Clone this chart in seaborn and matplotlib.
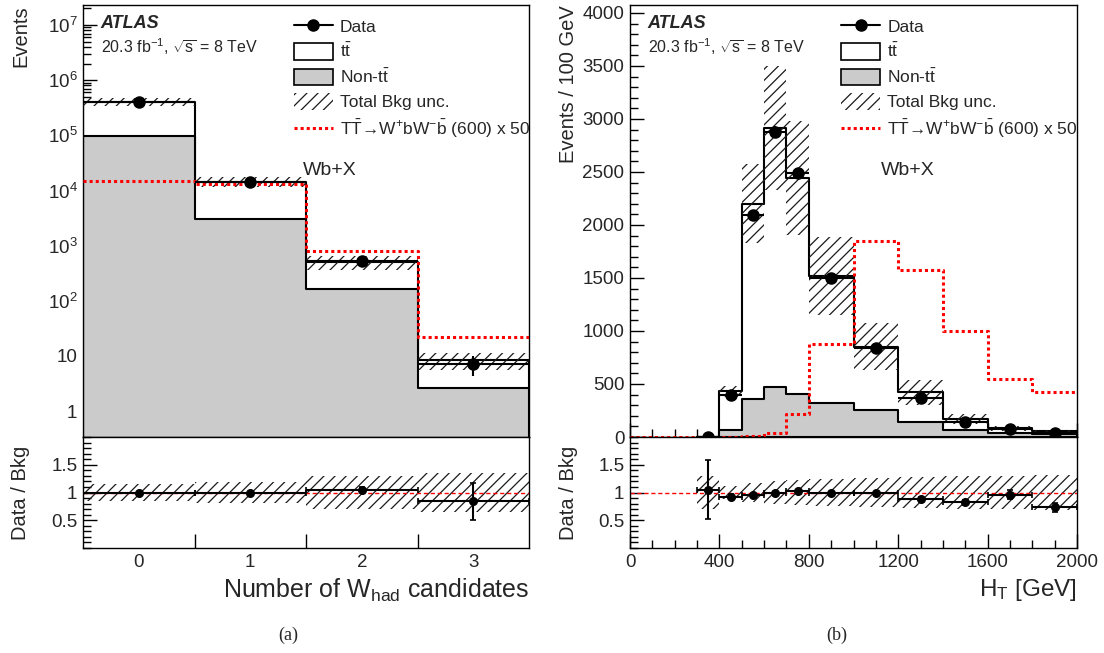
import numpy as np
import pandas as pd
import seaborn as sns
import matplotlib.pyplot as plt
from matplotlib.patches import Patch
from matplotlib.lines import Line2D
from matplotlib.ticker import MultipleLocator, LogLocator, NullFormatter, FixedLocator

sns.set_style('ticks')
plt.rcParams['font.family'] = ['Liberation Sans', 'DejaVu Sans']
plt.rcParams['mathtext.fontset'] = 'custom'
plt.rcParams['mathtext.rm'] = 'Liberation Sans'
plt.rcParams['mathtext.it'] = 'Liberation Sans:italic'
plt.rcParams['mathtext.bf'] = 'Liberation Sans:bold'
plt.rcParams['hatch.linewidth'] = 0.9

GREY = '#cbcbcb'
HATCH_COL = '#1a1a1a'

# (a) number of W_had candidates
nw_labels = ['0', '1', '2', '3']
nw_edges = [-0.5, 0.5, 1.5, 2.5, 3.5]
nw_data = [4.0e5, 1.43e4, 527, 7.1]
nw_data_err = [630, 120, 23, 2.8]
nw_total = [4.05e5, 1.45e4, 500, 8.4]
nw_nontt = [9.7e4, 3.1e3, 163, 2.65]
nw_unc = [0.15, 0.19, 0.29, 0.35]
nw_signal = [1.48e4, 1.33e4, 800, 21.7]

# (b) HT, events / 100 GeV
ht_edges = [300, 400, 500, 600, 700, 800, 1000, 1200, 1400, 1600, 1800, 2000]
ht_data = [4, 399, 2095, 2881, 2492, 1496, 840, 372, 140, 80, 38]
ht_data_err = [2, 20, 46, 54, 50, 27, 20, 14, 8, 6, 4]
ht_total = [3.8, 430, 2200, 2915, 2445, 1520, 850, 420, 170, 83, 52]
ht_nontt = [0.5, 70, 355, 470, 405, 320, 255, 145, 70, 42, 30]
ht_unc = [0.30, 0.12, 0.17, 0.20, 0.22, 0.24, 0.26, 0.28, 0.29, 0.30, 0.32]
ht_sig_edges = [0, 300, 400, 500, 600, 700, 800, 1000, 1200, 1400, 1600, 1800, 2000]
ht_signal = [3, 3, 4, 6, 40, 220, 880, 1845, 1580, 1000, 550, 420]


def step_hist(ax, edges, values, **kws):
    edges = [float(e) for e in edges]
    centers = [0.5 * (a + b) for a, b in zip(edges[:-1], edges[1:])]
    df = pd.DataFrame({'x': centers, 'w': [float(v) for v in values]})
    sns.histplot(data=df, x='x', weights='w', bins=edges, element='step', ax=ax, **kws)


def draw_stack(ax, edges, total, nontt, unc, data, data_err, sig_edges, sig):
    edges = np.asarray(edges, float)
    centers = 0.5 * (edges[1:] + edges[:-1])
    widths = np.diff(edges)
    total = np.asarray(total, float)
    unc = np.asarray(unc, float)
    step_hist(ax, edges, total, fill=True, color='white', edgecolor='black',
              linewidth=1.5, alpha=1, zorder=1)
    step_hist(ax, edges, nontt, fill=True, color=GREY, edgecolor='black',
              linewidth=1.5, alpha=1, zorder=2)
    ax.bar(edges[:-1], 2 * unc * total, width=widths, bottom=total * (1 - unc), align='edge',
           fill=False, hatch='///', edgecolor=HATCH_COL, linewidth=0, zorder=3)
    step_hist(ax, sig_edges, sig, fill=False, color='red', linestyle=(0, (1, 1)),
              linewidth=2.2, zorder=4)
    ax.errorbar(centers, data, yerr=data_err, xerr=widths / 2, fmt='o', color='black',
                ms=8, elinewidth=1.5, capsize=0, zorder=5)


def draw_ratio(ax, edges, total, unc, data, data_err):
    edges = np.asarray(edges, float)
    centers = 0.5 * (edges[1:] + edges[:-1])
    widths = np.diff(edges)
    total = np.asarray(total, float)
    unc = np.asarray(unc, float)
    ax.bar(edges[:-1], 2 * unc, width=widths, bottom=1 - unc, align='edge',
           fill=False, hatch='///', edgecolor=HATCH_COL, linewidth=0, zorder=1)
    ax.axhline(1, color='red', ls=(0, (3, 2)), lw=1, zorder=2)
    ax.errorbar(centers, np.asarray(data) / total, yerr=np.asarray(data_err) / total,
                xerr=widths / 2, fmt='o', color='black', ms=5.5, elinewidth=1.5,
                capsize=2.5, capthick=1.2, zorder=3)
    ax.set_ylim(0, 2)
    ax.yaxis.set_major_locator(FixedLocator([0.5, 1, 1.5]))
    ax.set_yticklabels(['0.5', '1', '1.5'])
    ax.yaxis.set_minor_locator(MultipleLocator(0.1))
    ax.set_ylabel('Data / Bkg', fontsize=14.5)
    ax.yaxis.set_label_coords(-0.119, 0.5)


def decorate(ax):
    ax.tick_params(which='both', direction='in', top=False, right=False,
                   labelsize=13.5, width=1, color='black', pad=4)
    ax.tick_params(which='major', length=10)
    ax.tick_params(which='minor', length=5.5)
    for s in ax.spines.values():
        s.set_linewidth(1)
        s.set_color('black')


def add_text(ax):
    ax.text(0.038, 0.958, 'ATLAS', transform=ax.transAxes, fontsize=13,
            fontweight='bold', fontstyle='italic', va='center')
    ax.text(0.040, 0.903, r'20.3 fb$^{-1}$, $\sqrt{\mathrm{s}}$ = 8 TeV',
            transform=ax.transAxes, fontsize=11.5, va='center')
    handles = [
        Line2D([], [], color='black', marker='o', ms=8, lw=1.5),
        Patch(facecolor='white', edgecolor='black', lw=1.2),
        Patch(facecolor=GREY, edgecolor='black', lw=1.2),
        Patch(facecolor='none', edgecolor=HATCH_COL, hatch='///', lw=0),
        Line2D([], [], color='red', ls=(0, (1, 1)), lw=2.2),
    ]
    labels = ['Data', r'$\mathrm{t\bar{t}}$', r'Non-$\mathrm{t\bar{t}}$', 'Total Bkg unc.',
              'T$\\mathrm{\\bar{T}}$\u2192W$^{+}$bW$^{-}$$\\mathrm{\\bar{b}}$ (600) x 50']
    ax.legend(handles, labels, loc='upper left', bbox_to_anchor=(0.473, 0.971),
              frameon=False, fontsize=12.5, handlelength=2.25, handleheight=1.1,
              labelspacing=0.42, handletextpad=0.4, borderpad=0, borderaxespad=0)


fig = plt.figure(figsize=(11.04, 6.53), dpi=100)
top_b, top_h = 1 - 437 / 653, 432 / 653
rat_b, rat_h = 1 - 548 / 653, 111 / 653
ax_a = fig.add_axes([83 / 1104, top_b, 446 / 1104, top_h])
ax_ar = fig.add_axes([83 / 1104, rat_b, 446 / 1104, rat_h])
ax_b = fig.add_axes([630 / 1104, top_b, 447 / 1104, top_h])
ax_br = fig.add_axes([630 / 1104, rat_b, 447 / 1104, rat_h])

# ---- panel (a)
ax_a.set_yscale('log')
draw_stack(ax_a, nw_edges, nw_total, nw_nontt, nw_unc, nw_data, nw_data_err, nw_edges, nw_signal)
ax_a.set_xlim(-0.5, 3.5)
ax_a.set_ylim(0.34, 2.3e7)
ax_a.set_yticks([1, 10, 1e2, 1e3, 1e4, 1e5, 1e6, 1e7])
ax_a.set_yticklabels(['1', '10', '$10^{2}$', '$10^{3}$', '$10^{4}$', '$10^{5}$', '$10^{6}$', '$10^{7}$'])
ax_a.yaxis.set_minor_locator(LogLocator(base=10, subs=np.arange(2, 10), numticks=20))
ax_a.yaxis.set_minor_formatter(NullFormatter())
ax_a.set_ylabel('Events', fontsize=14.5, loc='top')
ax_a.yaxis.set_label_coords(-0.119, 1.0)
ax_a.set_xlabel('')
ax_a.text(0.554, 0.616, 'Wb+X', transform=ax_a.transAxes, fontsize=14, ha='center', va='center')
add_text(ax_a)

draw_ratio(ax_ar, nw_edges, nw_total, nw_unc, nw_data, nw_data_err)
ax_ar.set_xlim(-0.5, 3.5)
for ax in (ax_a, ax_ar):
    ax.set_xticks([0.5, 1.5, 2.5])
    ax.set_xticklabels([])
    ax.set_xticks([0, 1, 2, 3], minor=True)
ax_a.set_xticklabels([], minor=True)
ax_ar.set_xticklabels(nw_labels, minor=True)
ax_ar.set_xlabel(r'Number of W$_{\mathrm{had}}$ candidates', fontsize=18, loc='right')
ax_ar.xaxis.set_label_coords(1.0, -0.26)

# ---- panel (b)
draw_stack(ax_b, ht_edges, ht_total, ht_nontt, ht_unc, ht_data, ht_data_err, ht_sig_edges, ht_signal)
ax_b.set_xlim(0, 2000)
ax_b.set_ylim(0, 4075)
ax_b.set_yticks(np.arange(0, 4001, 500))
ax_b.yaxis.set_minor_locator(MultipleLocator(100))
ax_b.set_ylabel('Events / 100 GeV', fontsize=14.5, loc='top')
ax_b.yaxis.set_label_coords(-0.116, 1.0)
ax_b.set_xlabel('')
ax_b.text(0.622, 0.616, 'Wb+X', transform=ax_b.transAxes, fontsize=14, ha='center', va='center')
add_text(ax_b)

draw_ratio(ax_br, ht_edges, ht_total, ht_unc, ht_data, ht_data_err)
ax_br.yaxis.set_label_coords(-0.116, 0.5)
ax_br.set_xlim(0, 2000)
for ax in (ax_b, ax_br):
    ax.set_xticks(np.arange(0, 2001, 400))
    ax.xaxis.set_minor_locator(MultipleLocator(100))
ax_b.set_xticklabels([])
ax_br.set_xlabel(r'H$_{\mathrm{T}}$ [GeV]', fontsize=17.5, loc='right')
ax_br.xaxis.set_label_coords(1.0, -0.26)

for ax in (ax_a, ax_ar, ax_b, ax_br):
    decorate(ax)
ax_ar.tick_params(axis='x', which='minor', length=0, labelsize=13.5)

fig.text(288 / 1104, 1 - 635 / 653, '(a)', ha='center', va='center',
         family=['Liberation Serif', 'DejaVu Serif'], fontsize=13)
fig.text(837 / 1104, 1 - 635 / 653, '(b)', ha='center', va='center',
         family=['Liberation Serif', 'DejaVu Serif'], fontsize=13)

fig.savefig('out.png', dpi=100)
